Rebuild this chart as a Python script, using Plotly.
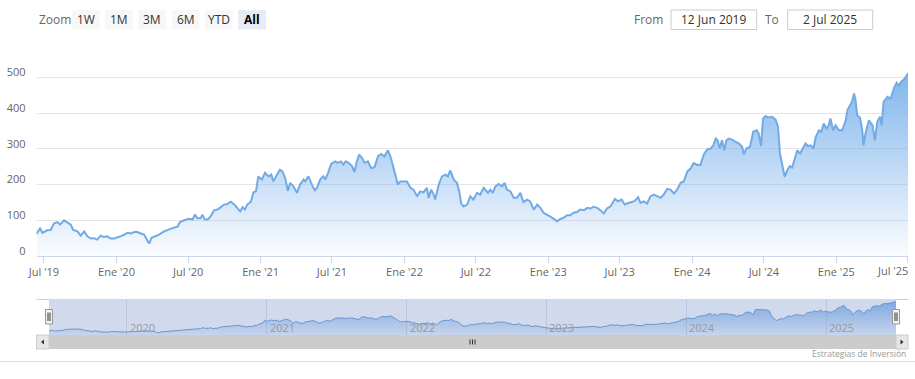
import plotly.graph_objects as go

W, H = 915, 379


def px(x):
    return x / W


def py(y):
    return 1 - y / H


# ---------------- data ----------------
dates = [
    "2019-06-12", "2019-06-21", "2019-06-27", "2019-07-09", "2019-07-18", "2019-07-26", "2019-08-04",
    "2019-08-11", "2019-08-21", "2019-08-29", "2019-09-07", "2019-09-13", "2019-09-24", "2019-10-02",
    "2019-10-11", "2019-10-19", "2019-10-28", "2019-11-05", "2019-11-13", "2019-11-22", "2019-11-30",
    "2019-12-09", "2019-12-17", "2019-12-26", "2020-01-03", "2020-01-16", "2020-01-29", "2020-02-06",
    "2020-02-15", "2020-02-23", "2020-03-03", "2020-03-11", "2020-03-19", "2020-03-24", "2020-03-30",
    "2020-04-07", "2020-04-18", "2020-05-01", "2020-05-09", "2020-05-22", "2020-06-04", "2020-06-10",
    "2020-06-21", "2020-07-03", "2020-07-12", "2020-07-18", "2020-07-24", "2020-08-02", "2020-08-06",
    "2020-08-12", "2020-08-19", "2020-08-27", "2020-09-05", "2020-09-13", "2020-09-22", "2020-09-30",
    "2020-10-09", "2020-10-17", "2020-10-26", "2020-11-03", "2020-11-10", "2020-11-16", "2020-11-22",
    "2020-11-28", "2020-12-07", "2020-12-14", "2020-12-20", "2020-12-26", "2021-01-04", "2021-01-12",
    "2021-01-21", "2021-01-28", "2021-02-02", "2021-02-09", "2021-02-19", "2021-02-25", "2021-03-04",
    "2021-03-11", "2021-03-17", "2021-03-25", "2021-04-03", "2021-04-11", "2021-04-20", "2021-04-24",
    "2021-05-02", "2021-05-11", "2021-05-18", "2021-05-24", "2021-06-01", "2021-06-09", "2021-06-14",
    "2021-06-21", "2021-06-29", "2021-07-09", "2021-07-16", "2021-07-24", "2021-07-30", "2021-08-05",
    "2021-08-12", "2021-08-21", "2021-08-27", "2021-09-02", "2021-09-08", "2021-09-15", "2021-09-22",
    "2021-09-30", "2021-10-09", "2021-10-17", "2021-10-26", "2021-11-03", "2021-11-11", "2021-11-20",
    "2021-11-26", "2021-12-02", "2021-12-09", "2021-12-15", "2021-12-21", "2021-12-30", "2022-01-07",
    "2022-01-16", "2022-01-24", "2022-02-02", "2022-02-10", "2022-02-18", "2022-02-27", "2022-03-03",
    "2022-03-10", "2022-03-16", "2022-03-20", "2022-03-29", "2022-04-06", "2022-04-15", "2022-04-21",
    "2022-04-27", "2022-05-06", "2022-05-14", "2022-05-20", "2022-05-25", "2022-05-31", "2022-06-09",
    "2022-06-17", "2022-06-25", "2022-07-04", "2022-07-12", "2022-07-21", "2022-08-01", "2022-08-07",
    "2022-08-13", "2022-08-20", "2022-08-28", "2022-09-06", "2022-09-12", "2022-09-18", "2022-09-27",
    "2022-10-05", "2022-10-14", "2022-10-22", "2022-10-30", "2022-11-08", "2022-11-16", "2022-11-25",
    "2022-12-04", "2022-12-12", "2022-12-20", "2022-12-29", "2023-01-06", "2023-01-15", "2023-01-23",
    "2023-02-01", "2023-02-09", "2023-02-18", "2023-02-26", "2023-03-06", "2023-03-15", "2023-03-23",
    "2023-04-01", "2023-04-10", "2023-04-18", "2023-04-26", "2023-05-05", "2023-05-13", "2023-05-22",
    "2023-05-30", "2023-06-08", "2023-06-19", "2023-06-27", "2023-07-06", "2023-07-14", "2023-07-24",
    "2023-08-02", "2023-08-10", "2023-08-17", "2023-08-23", "2023-08-31", "2023-09-09", "2023-09-17",
    "2023-09-26", "2023-10-04", "2023-10-13", "2023-10-21", "2023-10-30", "2023-11-07", "2023-11-16",
    "2023-11-24", "2023-12-03", "2023-12-11", "2023-12-20", "2023-12-28", "2024-01-05", "2024-01-14",
    "2024-01-22", "2024-01-31", "2024-02-08", "2024-02-17", "2024-02-24", "2024-03-01", "2024-03-06",
    "2024-03-11", "2024-03-17", "2024-03-23", "2024-03-28", "2024-04-03", "2024-04-12", "2024-04-20",
    "2024-04-29", "2024-05-07", "2024-05-11", "2024-05-18", "2024-05-27", "2024-06-04", "2024-06-13",
    "2024-06-18", "2024-06-24", "2024-06-29", "2024-07-05", "2024-07-14", "2024-07-22", "2024-07-31",
    "2024-08-06", "2024-08-11", "2024-08-17", "2024-08-23", "2024-08-30", "2024-09-05", "2024-09-11",
    "2024-09-17", "2024-09-24", "2024-10-01", "2024-10-09", "2024-10-15", "2024-10-21", "2024-10-28",
    "2024-11-04", "2024-11-10", "2024-11-18", "2024-11-24", "2024-11-30", "2024-12-07", "2024-12-13",
    "2024-12-17", "2024-12-24", "2024-12-30", "2025-01-08", "2025-01-16", "2025-01-25", "2025-01-29",
    "2025-02-05", "2025-02-11", "2025-02-15", "2025-02-19", "2025-02-23", "2025-03-02", "2025-03-08",
    "2025-03-11", "2025-03-17", "2025-03-25", "2025-04-03", "2025-04-09", "2025-04-15", "2025-04-22",
    "2025-04-26", "2025-05-01", "2025-05-11", "2025-05-19", "2025-05-27", "2025-06-03", "2025-06-09",
    "2025-06-15", "2025-06-24", "2025-06-29", "2025-07-02",
]

values = [
    62, 77, 65, 72, 73, 91, 95,
    88, 100, 95, 88, 73, 69, 57,
    69, 55, 49, 50, 46, 57, 53,
    55, 49, 49, 52, 57, 65, 63,
    67, 67, 63, 60, 44, 35, 51,
    55, 60, 69, 73, 78, 82, 95,
    100, 104, 102, 116, 106, 106, 116,
    102, 102, 111, 128, 130, 137, 144,
    146, 152, 144, 134, 125, 137, 130,
    144, 152, 179, 181, 223, 214, 233,
    223, 228, 209, 223, 242, 237, 219,
    183, 205, 195, 177, 200, 214, 209,
    223, 200, 184, 191, 214, 223, 214,
    233, 258, 265, 261, 265, 256, 265,
    261, 252, 235, 265, 284, 275, 261,
    265, 246, 249, 280, 286, 279, 296,
    280, 256, 228, 200, 209, 209, 209,
    191, 186, 167, 181, 178, 191, 163,
    186, 172, 158, 200, 223, 228, 223,
    240, 214, 205, 181, 147, 139, 144,
    167, 158, 177, 172, 191, 177, 186,
    177, 195, 202, 195, 205, 186, 181,
    163, 163, 177, 151, 158, 153, 130,
    144, 135, 121, 116, 110, 104, 97,
    104, 107, 114, 114, 121, 123, 130,
    128, 135, 133, 138, 135, 128, 119,
    133, 139, 160, 153, 158, 144, 149,
    151, 156, 165, 149, 153, 147, 167,
    172, 167, 163, 172, 188, 186, 175,
    186, 205, 209, 237, 245, 260, 255,
    255, 285, 298, 301, 310, 329, 324,
    301, 324, 296, 324, 329, 326, 320,
    315, 306, 285, 301, 306, 348, 352,
    343, 308, 385, 392, 388, 390, 382,
    362, 287, 259, 222, 241, 252, 248,
    273, 296, 287, 301, 315, 308, 310,
    301, 334, 352, 348, 371, 357, 366,
    385, 352, 366, 352, 352, 380, 408,
    422, 436, 455, 436, 394, 388, 352,
    310, 348, 380, 366, 324, 376, 390,
    366, 432, 446, 441, 469, 485, 478,
    488, 497, 507, 512,
]

x_range = ["2019-06-12", "2025-07-02"]
x_tick_dates = ["2019-07-01", "2020-01-01", "2020-07-01", "2021-01-01", "2021-07-01",
                "2022-01-01", "2022-07-01", "2023-01-01", "2023-07-01", "2024-01-01",
                "2024-07-01", "2025-01-01", "2025-07-01"]
x_tick_labels = ["Jul '19", "Ene '20", "Jul '20", "Ene '21", "Jul '21", "Ene '22", "Jul '22",
                 "Ene '23", "Jul '23", "Ene '24", "Jul '24", "Ene '25", "Jul '25"]
y_tick_vals = [0, 100, 200, 300, 400, 500, 600]
y_tick_labels = ["0", "100", "200", "300", "400", "500", ""]
nav_year_dates = ["2020-01-01", "2021-01-01", "2022-01-01", "2023-01-01", "2024-01-01", "2025-01-01"]
nav_year_labels = ["2020", "2021", "2022", "2023", "2024", "2025"]
zoom_buttons = ["1W", "1M", "3M", "6M", "YTD", "All"]
selected_button = "All"
from_text = "12 Jun 2019"
to_text = "2 Jul 2025"
credit_text = "Estrategias de Inversión"

FONT = "Open Sans"
BLUE = "rgba(124,178,236,{})"

# ---------------- traces ----------------
fig = go.Figure()
fig.add_trace(go.Scatter(
    x=dates, y=values, mode="lines", xaxis="x", yaxis="y",
    line=dict(color="#72aae6", width=2),
    fill="tozeroy",
    fillgradient=dict(type="vertical", start=0, stop=max(values),
                      colorscale=[[0, BLUE.format(0.04)], [1, BLUE.format(0.95)]]),
    hoverinfo="skip",
))
fig.add_trace(go.Scatter(
    x=dates, y=values, mode="lines", xaxis="x2", yaxis="y2",
    line=dict(color="#6d9bd8", width=1),
    fill="tozeroy",
    fillgradient=dict(type="vertical", start=0, stop=max(values),
                      colorscale=[[0, BLUE.format(0.1)], [1, BLUE.format(0.9)]]),
    hoverinfo="skip",
))

# ---------------- shapes ----------------
shapes = []


def rect(x0, y0, x1, y1, fill, line=None, lw=0, layer="above"):
    shapes.append(dict(type="rect", xref="paper", yref="paper",
                       x0=px(x0), x1=px(x1), y0=py(y1), y1=py(y0),
                       fillcolor=fill, line=dict(color=line or fill, width=lw), layer=layer))


def hline(x0, x1, y, color, w=1):
    shapes.append(dict(type="line", xref="paper", yref="paper",
                       x0=px(x0), x1=px(x1), y0=py(y), y1=py(y),
                       line=dict(color=color, width=w), layer="above"))


def vline(x, y0, y1, color, w=1):
    shapes.append(dict(type="line", xref="paper", yref="paper",
                       x0=px(x), x1=px(x), y0=py(y0), y1=py(y1),
                       line=dict(color=color, width=w), layer="above"))


def tri(points, color):
    path = "M " + " L ".join(f"{px(a):.5f},{py(b):.5f}" for a, b in points) + " Z"
    shapes.append(dict(type="path", xref="paper", yref="paper", path=path,
                       fillcolor=color, line=dict(color=color, width=0), layer="above"))


# toolbar buttons
btn_x0 = 71.7
btn_w = 27.8
btn_step = 33.3
for i, b in enumerate(zoom_buttons):
    x0 = btn_x0 + i * btn_step
    rect(x0, 10, x0 + btn_w, 29.5, "#e6ebf5" if b == selected_button else "#f7f7f7")

# range inputs
rect(671, 10, 756.7, 29.5, "#ffffff", "#cccccc", 1)
rect(787.7, 10, 872.7, 29.5, "#ffffff", "#cccccc", 1)

# navigator mask
rect(49, 299, 896, 335, "rgba(102,133,194,0.3)")
# navigator outline
hline(36.5, 49, 299.5, "#cccccc")
hline(896, 908, 299.5, "#cccccc")

# scrollbar
rect(36.5, 335, 908, 349, "#f2f2f2")
rect(49, 335, 896, 349, "#cccccc")
rect(36.5, 335, 49, 349, "#e6e6e6", "#cccccc", 1)
rect(896, 335, 908, 349, "#e6e6e6", "#cccccc", 1)
tri([(41, 342), (44, 339.5), (44, 344.5)], "#333333")
tri([(903.5, 342), (900.5, 339.5), (900.5, 344.5)], "#333333")
for gx in (470, 472.5, 475):
    vline(gx, 339.5, 344.5, "#333333")

# navigator handles
for hx in (45.5, 892.5):
    rect(hx, 309.5, hx + 7, 324, "#f2f2f2", "#999999", 1)
    vline(hx + 2.5, 312.5, 321, "#333333")
    vline(hx + 4.5, 312.5, 321, "#333333")

# bottom separator
hline(0, 915, 361.5, "#dcdce6")

# ---------------- annotations ----------------
ann = []


def text(x, y, s, size=12, color="#333333", anchor="center", bold=False, xref="paper", xshift=0):
    ann.append(dict(x=x if xref != "paper" else px(x), y=py(y), xref=xref, yref="paper",
                    text=f"<b>{s}</b>" if bold else s, showarrow=False,
                    xanchor=anchor, yanchor="middle", xshift=xshift,
                    font=dict(family=FONT, size=size, color=color)))


text(37, 19.5, "Zoom", 12, "#666666", "left")
for i, b in enumerate(zoom_buttons):
    cx = btn_x0 + i * btn_step + btn_w / 2
    sel = b == selected_button
    text(cx, 19.5, b, 12, "#000000" if sel else "#333333", "center", bold=sel)
text(665, 19.5, "From", 12, "#666666", "right")
text(781, 19.5, "To", 12, "#666666", "right")
text(713.8, 19.5, from_text, 12, "#333333")
text(830.2, 19.5, to_text, 12, "#333333")

for d, lab in zip(nav_year_dates, nav_year_labels):
    text(d, 327, lab, 11, "#999999", "left", xref="x2", xshift=1)

# last x label is pushed inside the chart (as the original library does)
text(x_tick_dates[-1], 270, x_tick_labels[-1], 11, "#666666", "right", xref="x", xshift=2)

text(908, 353.5, credit_text, 8.5, "#999999", "right")

# ---------------- layout ----------------
fig.update_layout(
    template="none",
    width=W, height=H, autosize=False,
    margin=dict(l=0, r=0, t=0, b=0, pad=0, autoexpand=False),
    paper_bgcolor="#ffffff", plot_bgcolor="rgba(0,0,0,0)",
    showlegend=False,
    font=dict(family=FONT, size=11, color="#666666"),
    xaxis=dict(domain=[px(36.5), px(908)], type="date", range=x_range, anchor="y",
               tickmode="array", tickvals=x_tick_dates,
               ticktext=x_tick_labels[:-1] + [""],
               showgrid=False, zeroline=False, showline=True, linecolor="#ccd6eb", linewidth=1,
               ticks="outside", ticklen=6, tickcolor="#ccd6eb", automargin=False,
               tickfont=dict(family=FONT, size=11, color="#666666"), fixedrange=True),
    yaxis=dict(domain=[py(256), py(41.8)], range=[0, 600], anchor="x",
               tickmode="array", tickvals=y_tick_vals, ticktext=y_tick_labels,
               showgrid=True, gridcolor="#e6e6e6", gridwidth=1, zeroline=False, showline=False,
               ticks="", ticklabelstandoff=10, ticklabelshift=-5, automargin=False,
               tickfont=dict(family=FONT, size=11, color="#666666"), fixedrange=True),
    xaxis2=dict(domain=[px(49), px(896)], type="date", range=x_range, anchor="y2",
                tickmode="array", tickvals=nav_year_dates, showticklabels=False,
                showgrid=True, gridcolor="#dde2ea", zeroline=False, showline=False, ticks="",
                automargin=False, fixedrange=True),
    yaxis2=dict(domain=[py(335), py(299)], range=[5, 550], anchor="x2", visible=False,
                automargin=False, fixedrange=True),
    shapes=shapes,
    annotations=ann,
)

fig.write_html("out.html", config={"displayModeBar": False, "staticPlot": True},
               post_script="document.body.style.margin='0';document.body.style.overflow='hidden';")
